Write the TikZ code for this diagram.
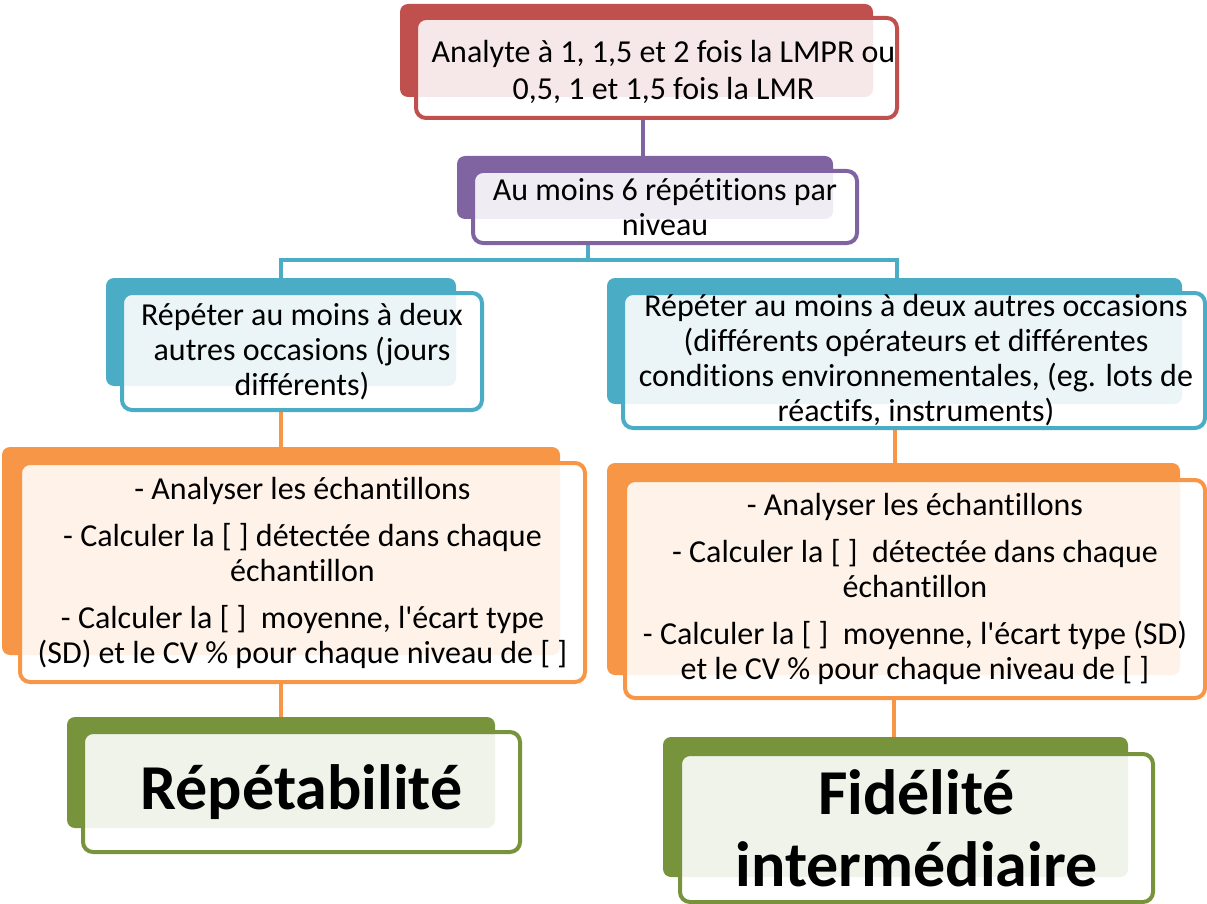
\documentclass[tikz,border=0pt]{standalone}
\usepackage{fontspec}
\setmainfont{Carlito}[Ligatures={TeX,NoCommon}]
\usetikzlibrary{calc}
\pgfdeclarelayer{bg}
\pgfsetlayers{bg,main}

\definecolor{cred}{HTML}{C0504D}
\definecolor{tred}{HTML}{F6E8E8}
\definecolor{cpur}{HTML}{8064A2}
\definecolor{tpur}{HTML}{EFECF3}
\definecolor{cblu}{HTML}{4BACC6}
\definecolor{tblu}{HTML}{EBF5F8}
\definecolor{cora}{HTML}{F79646}
\definecolor{tora}{HTML}{FEF2E9}
\definecolor{cgrn}{HTML}{77933C}
\definecolor{tgrn}{HTML}{F0F3EA}

\tikzset{
  link/.style={line width=4pt},
  txt/.style={font=\fontsize{32}{35}\selectfont, align=center, inner sep=0pt},
  big/.style={font=\fontsize{64}{72}\bfseries\selectfont, align=center, inner sep=0pt},
}

\newcommand{\apos}{\textquotesingle}

% #1 name, #2 line colour, #3 tint, #4-#5 back box corners, #6-#7 front box corners,
% #8 text style, #9 text
\newcommand{\panel}[9]{%
  \fill[#2, rounded corners=8pt] (#4) rectangle (#5);
  \fill[white, rounded corners=10pt] (#6) rectangle (#7);
  \begin{scope}
    \clip[rounded corners=8pt] (#4) rectangle (#5);
    \fill[#3, rounded corners=10pt] (#6) rectangle (#7);
  \end{scope}
  \draw[#2, line width=4pt, rounded corners=10pt] (#6) rectangle (#7);
  \node[#8] (#1) at ($(#6)!0.5!(#7)$) {#9};
}

\begin{document}
\begin{tikzpicture}[x=1pt,y=-1pt]
\useasboundingbox (0,0) rectangle (1207,904);

\panel{analyte}{cred}{tred}{400,4}{873,97}{416,18}{897,118}
  {txt, font=\fontsize{32}{37}\selectfont, xshift=7pt, yshift=-4pt}
  {Analyte à 1, 1,5 et 2 fois la LMPR ou\\0,5, 1 et 1,5 fois la LMR}
\panel{rep}{cpur}{tpur}{457,156}{833,219}{473,171}{857,243}{txt}
  {Au moins 6 répétitions par\\niveau}
\panel{jours}{cblu}{tblu}{106,278}{456,386}{122,293}{482,410}{txt}
  {Répéter au moins à deux\\autres occasions (jours\\différents)}
\panel{cond}{cblu}{tblu}{607,278}{1182,404}{623,293}{1205,428}{txt, xshift=2pt}
  {Répéter au moins à deux autres occasions\\(différents opérateurs et différentes\\conditions environnementales, (eg. lots de\\réactifs, instruments)}
\panel{calcl}{cora}{tora}{2,447}{560,655}{20,463}{585,682}{txt}
  {- Analyser les échantillons\\[12pt]- Calculer la [ ] détectée dans chaque\\échantillon\\[12pt]- Calculer la [ ]\ \ moyenne, l\apos écart type\\(SD) et le CV \% pour chaque niveau de [ ]}
\panel{calcr}{cora}{tora}{607,463}{1180,675}{625,480}{1205,698}{txt}
  {- Analyser les échantillons\\[12pt]- Calculer la [ ]\ \ détectée dans chaque\\échantillon\\[12pt]- Calculer la [ ]\ \ moyenne, l\apos écart type (SD)\\et le CV \% pour chaque niveau de [ ]}
\panel{repet}{cgrn}{tgrn}{67,717}{495,828}{83,732}{520,852}{big}
  {Répétabilité}
\panel{fidel}{cgrn}{tgrn}{663,737}{1128,877}{680,754}{1153,902}{big}
  {Fidélité\\intermédiaire}

\coordinate (fork) at (588,260);
\begin{pgfonlayer}{bg}
  \draw[link, cpur] (analyte.south -| 643,0) -- (rep.north -| 643,0);
  \draw[link, cblu] (rep.south -| fork) -- (fork);
  \draw[link, cblu] (jours.north -| 281,0) |- (fork) -| (cond.north -| 897,0);
  \draw[link, cora] (jours.south -| 281,0) -- (calcl.north -| 281,0);
  \draw[link, cora] (cond.south -| 895,0) -- (calcr.north -| 895,0);
  \draw[link, cora] (calcl.south -| 281,0) -- (repet.north -| 281,0);
  \draw[link, cora] (calcr.south -| 894,0) -- (fidel.north -| 894,0);
\end{pgfonlayer}
\end{tikzpicture}
\end{document}
